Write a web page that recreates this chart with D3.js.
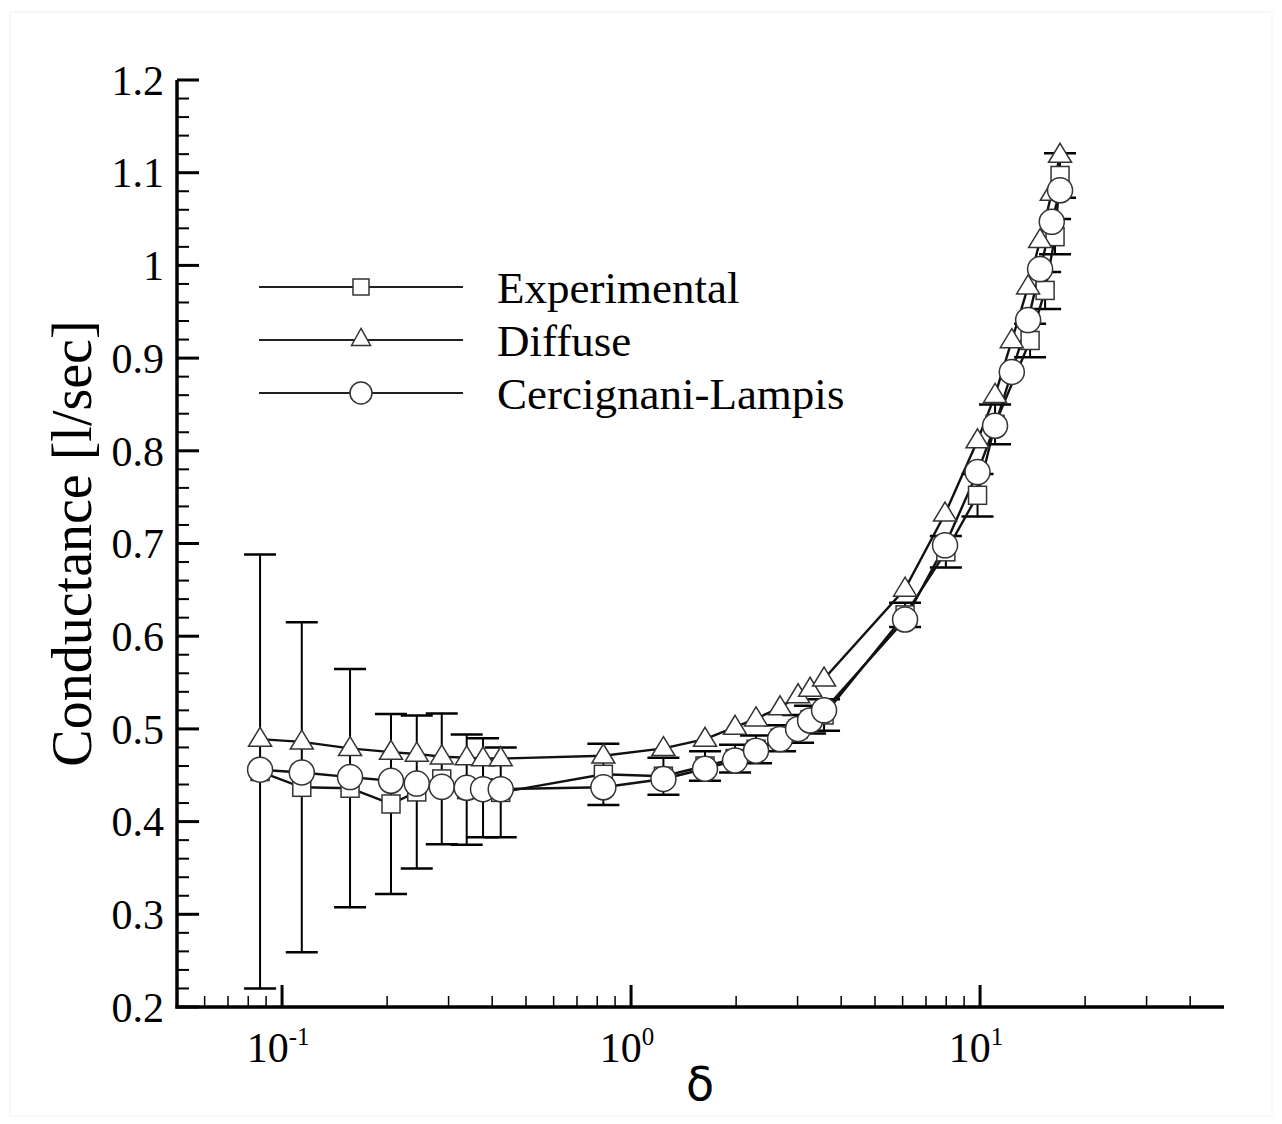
<!DOCTYPE html>
<html>
<head>
<meta charset="utf-8">
<script src="https://cdn.jsdelivr.net/npm/d3@7"></script>
<style>
  html, body { margin: 0; padding: 0; background: #fff; }
  svg { display: block; }
</style>
</head>
<body>
<svg id="chart" width="1282" height="1124"></svg>
<script>
// ---------------- data ----------------
const simDelta = [0.0865, 0.1139, 0.1566, 0.2052, 0.2432, 0.2868, 0.3381, 0.3766, 0.4232,
                  0.833, 1.238, 1.629, 1.986, 2.281, 2.673, 3.010, 3.258, 3.573,
                  6.097, 7.937, 9.835, 11.04, 12.33, 13.73, 14.86, 16.05, 16.95];
const diffuse = [0.489, 0.486, 0.479, 0.475, 0.473, 0.470, 0.469, 0.468, 0.468,
                 0.471, 0.479, 0.489, 0.502, 0.511, 0.523, 0.536, 0.543, 0.554,
                 0.651, 0.732, 0.811, 0.860, 0.919, 0.977, 1.027, 1.078, 1.119];
const cercignani = [0.456, 0.453, 0.448, 0.444, 0.441, 0.4375, 0.4365, 0.435, 0.435,
                    0.437, 0.446, 0.457, 0.466, 0.4765, 0.489, 0.500, 0.509, 0.520,
                    0.618, 0.698, 0.777, 0.827, 0.885, 0.941, 0.996, 1.047, 1.081];
const expDelta = [0.0865, 0.1139, 0.1566, 0.2052, 0.2432, 0.2868, 0.3381, 0.3766, 0.4232,
                  0.833, 1.238, 1.629, 1.986, 2.281, 2.673, 3.010, 3.258, 3.573,
                  6.097, 7.98, 9.835, 11.04, 13.91, 15.36, 16.40, 16.95];
const experimental = [0.454, 0.437, 0.436, 0.419, 0.432, 0.446, 0.4345, 0.4365, 0.4315,
                      0.451, 0.449, 0.460, 0.468, 0.478, 0.490, 0.500, 0.510, 0.515,
                      0.623, 0.691, 0.752, 0.8285, 0.919, 0.973, 1.031, 1.097];
const expError = [0.234, 0.178, 0.1285, 0.097, 0.0825, 0.0705, 0.0595, 0.0535, 0.0485,
                  0.033, 0.020, 0.016, 0.015, 0.015, 0.014, 0.015, 0.015, 0.017,
                  0.013, 0.017, 0.023, 0.0215, 0.018, 0.020, 0.019, 0.024];

const yMajorTicks = [0.2, 0.3, 0.4, 0.5, 0.6, 0.7, 0.8, 0.9, 1.0, 1.1, 1.2];
const yTickLabels = ["0.2", "0.3", "0.4", "0.5", "0.6", "0.7", "0.8", "0.9", "1", "1.1", "1.2"];
const xMajorTicks = [0.1, 1, 10];
const xTickExponents = ["-1", "0", "1"];
const xMinorTicks = [0.06, 0.07, 0.08, 0.09, 0.2, 0.3, 0.4, 0.5, 0.6, 0.7, 0.8, 0.9,
                     2, 3, 4, 5, 6, 7, 8, 9, 20, 30, 40];
const legendLabels = ["Experimental", "Diffuse", "Cercignani-Lampis"];

// ---------------- drawing ----------------
const svg = d3.select("#chart");
const serif = "'Liberation Serif', 'Times New Roman', serif";

svg.append("rect").attr("x", 10).attr("y", 12).attr("width", 1262).attr("height", 1104)
  .attr("fill", "none").attr("stroke", "#f2f2f2").attr("stroke-width", 1);

const x = d3.scaleLog().domain([0.05, 50]).range([177, 1224]);
const y = d3.scaleLinear().domain([0.2, 1.2]).range([1007, 80]);

const axisG = svg.append("g");
// y ticks (inward)
const yMinor = d3.range(0.2, 1.2001, 0.02).filter(v => Math.abs(v * 10 - Math.round(v * 10)) > 1e-6);
axisG.selectAll(".ymin").data(yMinor).join("line")
  .attr("x1", x.range()[0]).attr("x2", x.range()[0] + 12)
  .attr("y1", d => y(d)).attr("y2", d => y(d))
  .attr("stroke", "#000").attr("stroke-width", 2);
axisG.selectAll(".ymaj").data(yMajorTicks).join("line")
  .attr("x1", x.range()[0]).attr("x2", x.range()[0] + 22)
  .attr("y1", d => y(d)).attr("y2", d => y(d))
  .attr("stroke", "#000").attr("stroke-width", 3);
axisG.selectAll(".ylab").data(yMajorTicks).join("text")
  .attr("x", 164).attr("y", d => y(d)).attr("dy", "0.35em")
  .attr("text-anchor", "end").attr("font-family", serif).attr("font-size", 42)
  .text((d, i) => yTickLabels[i]);

// x ticks (inward)
axisG.selectAll(".xmin").data(xMinorTicks).join("line")
  .attr("x1", d => x(d)).attr("x2", d => x(d))
  .attr("y1", y.range()[0]).attr("y2", y.range()[0] - 11)
  .attr("stroke", "#000").attr("stroke-width", 1.5);
axisG.selectAll(".xmaj").data(xMajorTicks).join("line")
  .attr("x1", d => x(d)).attr("x2", d => x(d))
  .attr("y1", y.range()[0]).attr("y2", y.range()[0] - 22)
  .attr("stroke", "#000").attr("stroke-width", 3);
const xl = axisG.selectAll(".xlab").data(xMajorTicks).join("text")
  .attr("x", d => x(d) - 4).attr("y", 1062)
  .attr("text-anchor", "middle").attr("font-family", serif).attr("font-size", 42);
xl.append("tspan").text("10");
xl.append("tspan").attr("dy", -17).attr("font-size", 25).text((d, i) => xTickExponents[i]);

// axis lines
axisG.append("line").attr("x1", x.range()[0]).attr("x2", x.range()[0])
  .attr("y1", y(1.2)).attr("y2", y(0.2) + 1.5).attr("stroke", "#000").attr("stroke-width", 3.5);
axisG.append("line").attr("x1", x.range()[0] - 1.5).attr("x2", x.range()[1])
  .attr("y1", y(0.2)).attr("y2", y(0.2)).attr("stroke", "#000").attr("stroke-width", 3.5);

// axis titles
svg.append("text").attr("transform", `translate(91,${(y(0.2) + y(1.2)) / 2}) rotate(-90)`)
  .attr("text-anchor", "middle").attr("font-family", serif).attr("font-size", 56)
  .text("Conductance [l/sec]");
svg.append("text").attr("x", 700).attr("y", 1100).attr("text-anchor", "middle")
  .attr("font-family", "'DejaVu Sans', sans-serif").attr("font-size", 46).text("δ");

// error bars
const plot = svg.append("g");
const eb = plot.selectAll(".eb").data(expDelta.map((d, i) => ({ d, v: experimental[i], e: expError[i] })))
  .join("g");
eb.append("line").attr("x1", p => x(p.d)).attr("x2", p => x(p.d))
  .attr("y1", p => y(p.v - p.e)).attr("y2", p => y(p.v + p.e))
  .attr("stroke", "#000").attr("stroke-width", 2);
[-1, 1].forEach(s => {
  eb.append("line").attr("x1", p => x(p.d) - 16).attr("x2", p => x(p.d) + 16)
    .attr("y1", p => y(p.v + s * p.e)).attr("y2", p => y(p.v + s * p.e))
    .attr("stroke", "#000").attr("stroke-width", 2.5);
});

// lines
const line = d3.line().x(p => x(p[0])).y(p => y(p[1]));
const expPts = expDelta.map((d, i) => [d, experimental[i]]);
const difPts = simDelta.map((d, i) => [d, diffuse[i]]);
const clPts = simDelta.map((d, i) => [d, cercignani[i]]);
[expPts, difPts, clPts].forEach(pts => {
  plot.append("path").attr("d", line(pts)).attr("fill", "none")
    .attr("stroke", "#111").attr("stroke-width", 2.4);
});

// markers
const sq = 18, triW = 23, triH = 19, cr = 12.5;
function drawSquare(g, cx, cy, s) {
  g.append("rect").attr("x", cx - s / 2).attr("y", cy - s / 2).attr("width", s).attr("height", s)
    .attr("fill", "#fff").attr("stroke", "#333").attr("stroke-width", 1.5);
}
function drawTri(g, cx, cy, w, h) {
  g.append("path").attr("d", `M${cx},${cy - h * 0.62}L${cx + w / 2},${cy + h * 0.38}L${cx - w / 2},${cy + h * 0.38}Z`)
    .attr("fill", "#fff").attr("stroke", "#333").attr("stroke-width", 1.5);
}
function drawCircle(g, cx, cy, r) {
  g.append("circle").attr("cx", cx).attr("cy", cy).attr("r", r)
    .attr("fill", "#fff").attr("stroke", "#333").attr("stroke-width", 1.5);
}
expPts.forEach(p => drawSquare(plot, x(p[0]), y(p[1]), sq));
difPts.forEach(p => drawTri(plot, x(p[0]), y(p[1]), triW, triH));
clPts.forEach(p => drawCircle(plot, x(p[0]), y(p[1]), cr));

// legend
const leg = svg.append("g");
const legY = [287, 340, 393];
legendLabels.forEach((lab, i) => {
  leg.append("line").attr("x1", 259).attr("x2", 463).attr("y1", legY[i]).attr("y2", legY[i])
    .attr("stroke", "#222").attr("stroke-width", 2);
  if (i === 0) drawSquare(leg, 361, legY[i], 16);
  if (i === 1) drawTri(leg, 361, legY[i] - 1, 19, 17);
  if (i === 2) drawCircle(leg, 361, legY[i], 11);
  leg.append("text").attr("x", 497).attr("y", legY[i]).attr("dy", "0.35em")
    .attr("font-family", serif).attr("font-size", 45).text(lab);
});
</script>
</body>
</html>
